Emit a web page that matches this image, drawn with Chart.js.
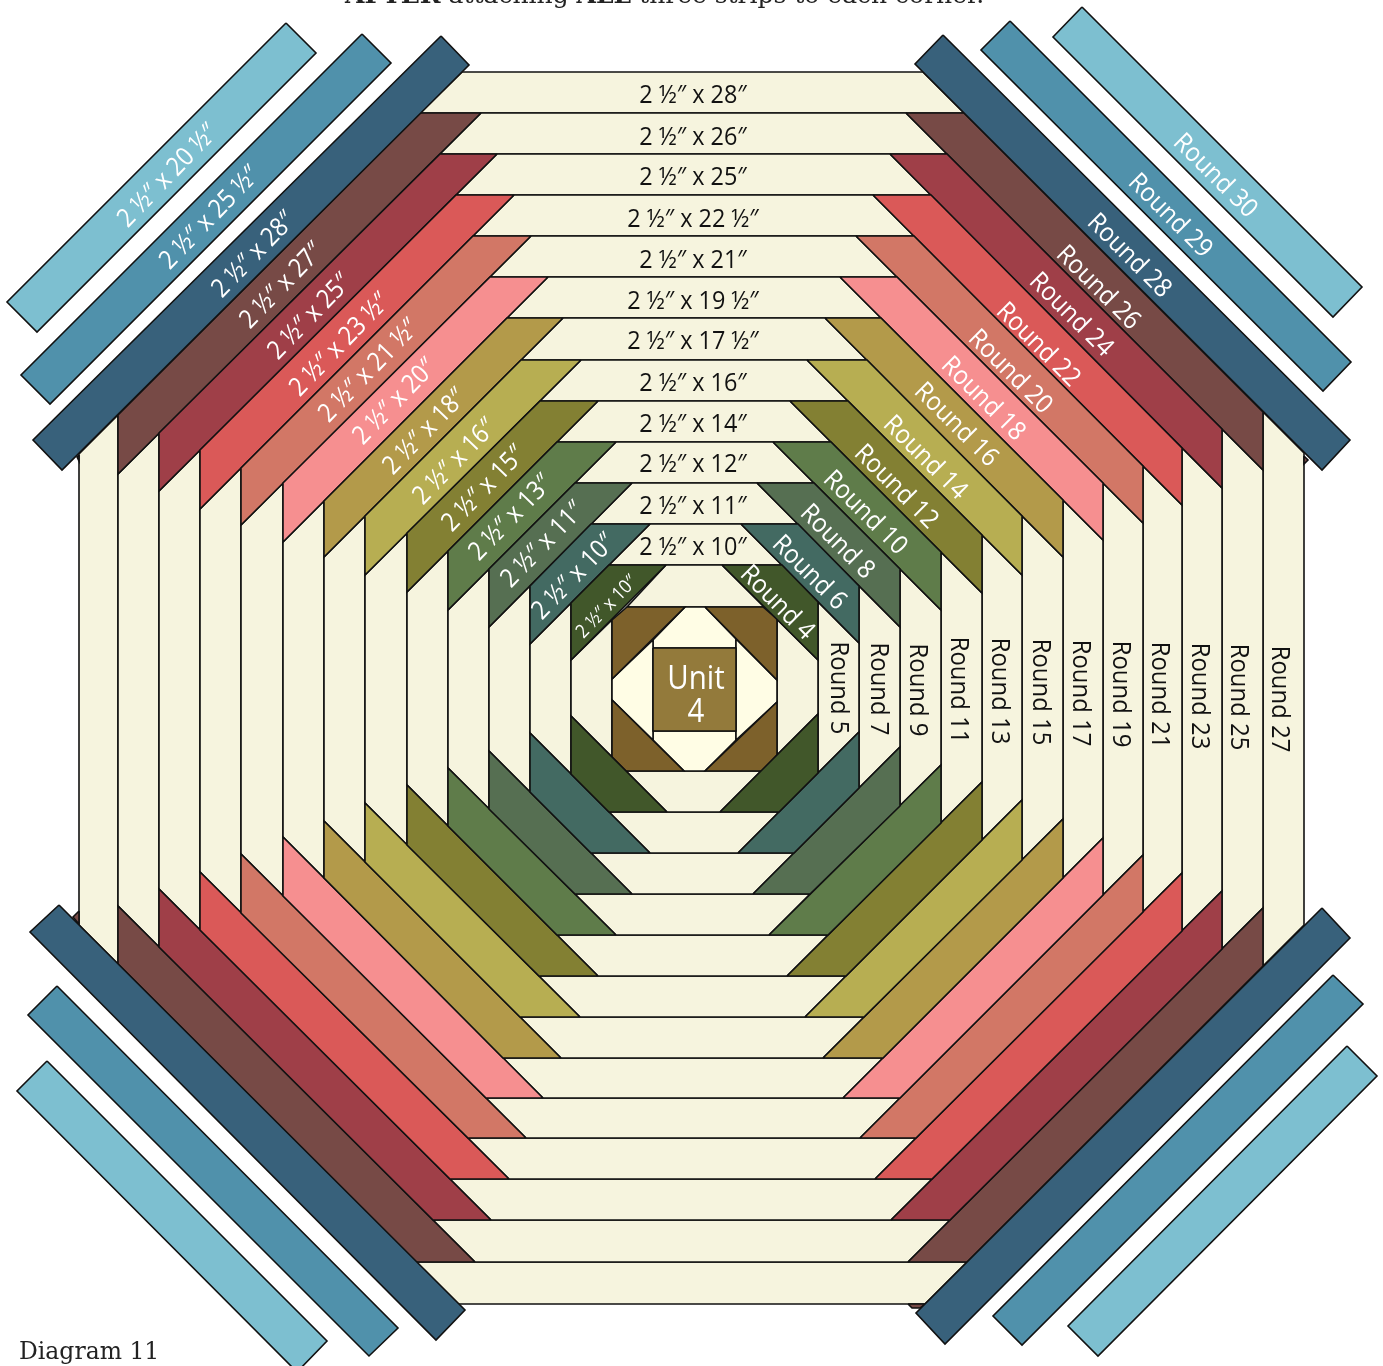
<!DOCTYPE html>
<html>
<head>
<meta charset="utf-8">
<script src="https://cdn.jsdelivr.net/npm/chart.js@4/dist/chart.umd.min.js"></script>
<style>
  html, body { margin: 0; padding: 0; background: #fff; }
  canvas { display: block; }
</style>
</head>
<body>
<canvas id="quiltChart" width="1383" height="1366"></canvas>
<script>
// edges of the rounds, outermost (cream only) first, unit block last
const topY = [72, 113, 154, 195, 236, 277, 318, 360, 401, 442, 483, 524, 565, 607];
const botY = [1304, 1262, 1220, 1179, 1138, 1098, 1058, 1017, 976, 935, 894, 853, 812, 771];
const leftX = [79, 118, 159, 200, 241, 283, 324, 365, 407, 448, 489, 530, 571, 612];
const rightX = [1304, 1263, 1222, 1182, 1143, 1103, 1063, 1022, 982, 941, 900, 859, 818, 777];

// where each corner strip meets those edges ("in" = side facing the centre)
const tlTopIn = [462, 481, 497, 514, 531, 548, 563, 581, 598, 616, 632, 650, 666, 0];
const tlTopOut = [0, 420, 440, 456, 473, 490, 507, 521, 540, 557, 575, 591, 609, 627];
const tlSideIn = [454, 474, 491, 509, 525, 542, 557, 575, 592, 610, 627, 644, 660, 0];
const tlSideOut = [0, 415, 433, 450, 468, 483, 501, 516, 533, 551, 569, 586, 603, 620];

const trTopIn = [923, 906, 890, 873, 856, 840, 825, 807, 790, 773, 757, 741, 722, 0];
const trTopOut = [0, 964, 947, 931, 914, 897, 881, 867, 848, 831, 814, 798, 782, 764];
const trSideIn = [453, 470, 488, 505, 523, 540, 557, 575, 593, 610, 627, 643, 660, 0];
const trSideOut = [0, 412, 429, 448, 466, 483, 500, 516, 535, 552, 569, 586, 602, 619];

const blBotIn = [458, 475, 491, 509, 526, 543, 561, 580, 598, 616, 632, 650, 667, 0];
const blBotOut = [0, 416, 433, 450, 468, 486, 503, 520, 539, 557, 575, 591, 609, 626];
const blSideIn = [925, 906, 889, 872, 854, 837, 821, 803, 785, 768, 751, 733, 716, 0];
const blSideOut = [0, 964, 947, 930, 913, 896, 878, 862, 845, 826, 809, 792, 774, 757];

const brBotIn = [925, 908, 891, 875, 860, 843, 823, 805, 787, 769, 753, 738, 720, 0];
const brBotOut = [0, 967, 950, 932, 916, 900, 883, 864, 846, 828, 810, 794, 779, 761];
const brSideIn = [925, 908, 891, 873, 855, 838, 819, 800, 782, 765, 747, 732, 714, 0];
const brSideOut = [0, 966, 949, 931, 912, 895, 878, 860, 840, 823, 806, 788, 773, 755];

// Rounds 26 down to 4
const stripColors = ["", "#774a46", "#9f3f48", "#da5958", "#d27766", "#f68f90", "#b39a4a",
    "#b7ae52", "#838033", "#5f7c4a", "#566f52", "#436a62", "#41572a"];

// loose strips, Round 28 / 29 / 30
const navyStrips = [
    [[441, 36], [469, 65], [62, 470], [33, 440]],
    [[943, 35], [915, 64], [1322, 470], [1350, 440]],
    [[59, 905], [30, 932], [436, 1340], [465, 1310]],
    [[1322, 908], [1350, 938], [945, 1344], [916, 1313]],
];
const blueStrips = [
    [[362, 34], [391, 63], [50, 404], [21, 375]],
    [[1010, 21], [981, 50], [1323, 391], [1351, 362]],
    [[57, 986], [28, 1015], [369, 1356], [398, 1328]],
    [[1333, 975], [1363, 1004], [1022, 1345], [993, 1316]],
];
const lightStrips = [
    [[286, 23], [316, 53], [37, 332], [7, 302]],
    [[1082, 7], [1053, 37], [1333, 317], [1362, 287]],
    [[47, 1061], [17, 1091], [297, 1372], [327, 1341]],
    [[1347, 1046], [1377, 1076], [1098, 1356], [1068, 1326]],
];

// little bits of brown poking out past the cream
const brownSlivers = [
    [[79, 911], [73, 917], [79, 924]],
    [[79, 455], [77, 457], [79, 461]],
    [[1304, 456], [1308, 460], [1304, 464]],
    [[908, 1304], [925, 1304], [920, 1308], [912, 1308]],
];

// centre block
const unitCorners = [
    [[627, 607], [685, 607], [612, 679], [612, 620]],
    [[705, 607], [763, 607], [777, 619], [777, 680]],
    [[612, 757], [612, 700], [684, 771], [626, 771]],
    [[777, 755], [777, 702], [705, 771], [762, 771]],
];
const unitPetals = [
    [[685, 607], [705, 607], [736, 639], [736, 648], [653, 648], [653, 640]],
    [[684, 771], [705, 771], [736, 740], [736, 731], [653, 731], [653, 740]],
    [[612, 679], [653, 640], [653, 740], [612, 700]],
    [[777, 680], [736, 639], [736, 740], [777, 702]],
];
const unitSquare = [[653, 648], [736, 648], [736, 731], [653, 731]];

// labels
const sizeLabels = ["2 ½″ x 28″", "2 ½″ x 26″", "2 ½″ x 25″", "2 ½″ x 22 ½″", "2 ½″ x 21″", "2 ½″ x 19 ½″",
    "2 ½″ x 17 ½″", "2 ½″ x 16″", "2 ½″ x 14″", "2 ½″ x 12″", "2 ½″ x 11″", "2 ½″ x 10″"];
const sizeLabelY = [96, 138, 178, 220, 261, 302, 342, 384, 425, 465, 507, 548];

const diagLabels = ["2 ½″ x 20 ½″", "2 ½″ x 25 ½″", "2 ½″ x 28″", "2 ½″ x 27″", "2 ½″ x 25″", "2 ½″ x 23 ½″", "2 ½″ x 21 ½″",
    "2 ½″ x 20″", "2 ½″ x 18″", "2 ½″ x 16″", "2 ½″ x 15″", "2 ½″ x 13″", "2 ½″ x 11″", "2 ½″ x 10″", "2 ½″ x 10″"];
const diagLabelX = [168, 210, 254, 282, 310, 340, 369, 395, 425, 455, 484, 511, 543, 574, 607];
const diagLabelY = [176, 218, 255, 286, 317, 345, 371, 402, 432, 462, 489, 518, 545, 577, 607];

const roundLabels = ["Round 30", "Round 29", "Round 28", "Round 26", "Round 24", "Round 22", "Round 20", "Round 18",
    "Round 16", "Round 14", "Round 12", "Round 10", "Round 8", "Round 6", "Round 4"];
const roundLabelX = [1215, 1170, 1129, 1098, 1071, 1038, 1010, 983, 956, 925, 896, 865, 837, 809, 777];
const roundLabelY = [176, 216, 256, 288, 315, 345, 372, 399, 425, 458, 487, 513, 542, 573, 603];

const sideLabels = ["Round 5", "Round 7", "Round 9", "Round 11", "Round 13", "Round 15", "Round 17", "Round 19",
    "Round 21", "Round 23", "Round 25", "Round 27"];
const sideLabelX = [838, 878, 917, 958, 999, 1040, 1080, 1120, 1159, 1199, 1238, 1279];
const sideLabelY = [688, 689, 690, 690, 691, 692, 693, 694, 695, 696, 697, 699];

const titleParts = ["AFTER", " attaching ", "ALL", " three strips to each corner."];
const titleWeights = ["bold", "normal", "bold", "normal"];

function shape(points, color) {
    const data = points.concat([points[0]]).map(p => ({ x: p[0], y: p[1] }));
    return {
        data: data,
        showLine: true,
        fill: "shape",
        backgroundColor: color,
        borderColor: "#111",
        borderWidth: 1.6,
        borderJoinStyle: "miter",
        pointRadius: 0,
        tension: 0,
    };
}

const layers = [];

// cream bands and columns between the corner strips
const cream = "#f6f4de";
for (let k = 0; k < 13; k++) {
    layers.push(shape([[tlTopIn[k], topY[k]], [trTopIn[k], topY[k]], [trTopOut[k + 1], topY[k + 1]], [tlTopOut[k + 1], topY[k + 1]]], cream));
    layers.push(shape([[blBotIn[k], botY[k]], [brBotIn[k], botY[k]], [brBotOut[k + 1], botY[k + 1]], [blBotOut[k + 1], botY[k + 1]]], cream));
    layers.push(shape([[leftX[k], tlSideIn[k]], [leftX[k + 1], tlSideOut[k + 1]], [leftX[k + 1], blSideOut[k + 1]], [leftX[k], blSideIn[k]]], cream));
    layers.push(shape([[rightX[k], trSideIn[k]], [rightX[k + 1], trSideOut[k + 1]], [rightX[k + 1], brSideOut[k + 1]], [rightX[k], brSideIn[k]]], cream));
}

brownSlivers.forEach(p => layers.push(shape(p, "#774a46")));
unitPetals.forEach(p => layers.push(shape(p, "#fffde5")));
unitCorners.forEach(p => layers.push(shape(p, "#7d612b")));
layers.push(shape(unitSquare, "#937a3b"));

// the twelve coloured rounds on all four corners
for (let k = 1; k <= 12; k++) {
    const c = stripColors[k];
    layers.push(shape([[tlTopIn[k], topY[k]], [leftX[k], tlSideIn[k]], [leftX[k], tlSideOut[k]], [tlTopOut[k], topY[k]]], c));
    layers.push(shape([[trTopIn[k], topY[k]], [rightX[k], trSideIn[k]], [rightX[k], trSideOut[k]], [trTopOut[k], topY[k]]], c));
    layers.push(shape([[blBotIn[k], botY[k]], [leftX[k], blSideIn[k]], [leftX[k], blSideOut[k]], [blBotOut[k], botY[k]]], c));
    layers.push(shape([[brBotIn[k], botY[k]], [rightX[k], brSideIn[k]], [rightX[k], brSideOut[k]], [brBotOut[k], botY[k]]], c));
}

navyStrips.forEach(p => layers.push(shape(p, "#38617b")));
blueStrips.forEach(p => layers.push(shape(p, "#5091ab")));
lightStrips.forEach(p => layers.push(shape(p, "#7dbfd0")));

// squeeze Open Sans a bit, the original face is narrower
function putText(ctx, chart, text, x, y, deg, font, color, squeeze) {
    ctx.save();
    ctx.translate(chart.scales.x.getPixelForValue(x), chart.scales.y.getPixelForValue(y));
    ctx.rotate(deg * Math.PI / 180);
    ctx.scale(squeeze, 1);
    ctx.font = font;
    ctx.fillStyle = color;
    ctx.textAlign = "center";
    ctx.textBaseline = "middle";
    ctx.fillText(text, 0, 0);
    ctx.restore();
}

const quiltLabels = {
    id: "quiltLabels",
    afterDatasetsDraw(chart) {
        const ctx = chart.ctx;
        sizeLabels.forEach((t, i) => putText(ctx, chart, t, 693, sizeLabelY[i], 0, "26px 'Open Sans'", "#111", 0.9));
        diagLabels.forEach((t, i) => putText(ctx, chart, t, diagLabelX[i], diagLabelY[i], -46, (i === 14 ? "19px" : "26px") + " 'Open Sans'", "#fff", 0.9));
        roundLabels.forEach((t, i) => putText(ctx, chart, t, roundLabelX[i], roundLabelY[i], 45, "26px 'Open Sans'", "#fff", 0.92));
        sideLabels.forEach((t, i) => putText(ctx, chart, t, sideLabelX[i], sideLabelY[i], 90, "26px 'Open Sans'", "#111", 0.92));
        putText(ctx, chart, "Unit", 696, 680, 0, "32px 'Open Sans'", "#fff", 0.92);
        putText(ctx, chart, "4", 696, 713, 0, "32px 'Open Sans'", "#fff", 0.92);

        // title is cut off by the top of the page, like the original
        ctx.save();
        ctx.fillStyle = "#222";
        ctx.textBaseline = "alphabetic";
        let tx = chart.scales.x.getPixelForValue(345);
        titleParts.forEach((t, i) => {
            ctx.font = titleWeights[i] + " 25px 'DejaVu Serif'";
            ctx.fillText(t, tx, chart.scales.y.getPixelForValue(3));
            tx += ctx.measureText(t).width;
        });
        ctx.font = "23.5px 'DejaVu Serif'";
        ctx.fillText("Diagram 11", chart.scales.x.getPixelForValue(19), chart.scales.y.getPixelForValue(1359));
        ctx.restore();
    },
};

new Chart(document.getElementById("quiltChart").getContext("2d"), {
    type: "scatter",
    data: { datasets: layers.reverse() },
    options: {
        responsive: false,
        animation: false,
        events: [],
        layout: { padding: 0 },
        plugins: { legend: { display: false }, tooltip: { enabled: false }, title: { display: false } },
        scales: {
            x: { type: "linear", min: 0, max: 1383, display: false },
            y: { type: "linear", min: 0, max: 1366, reverse: true, display: false },
        },
    },
    plugins: [quiltLabels],
});
</script>
</body>
</html>
